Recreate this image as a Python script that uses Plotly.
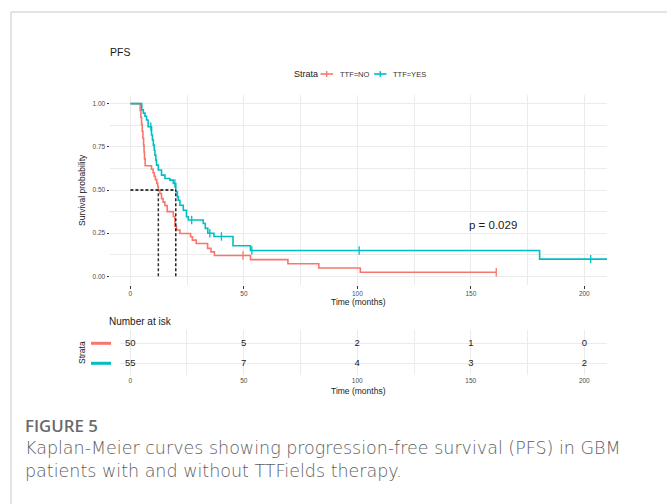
import plotly.graph_objects as go

# ---------------- data ----------------
no_times = [0, 4.3, 4.6, 4.9, 5.2, 5.5, 5.8, 6.0, 6.2, 6.5, 9.3, 10.0, 10.5, 11.0, 11.6, 12.0, 12.3,
            13.0, 13.7, 14.4, 15.2, 16.2, 18.9, 19.6, 20.3, 21.8, 26.5, 27.3, 29.0, 34.0, 35.5, 37.0,
            52.9, 69.4, 83.0, 101.3, 161.2]
no_surv = [1.00, 0.96, 0.92, 0.88, 0.84, 0.80, 0.76, 0.72, 0.68, 0.64, 0.62, 0.60, 0.58, 0.56, 0.54, 0.52, 0.50,
           0.48, 0.45, 0.43, 0.41, 0.375, 0.345, 0.29, 0.268, 0.248, 0.229, 0.21, 0.19, 0.162, 0.142, 0.121,
           0.097, 0.073, 0.048, 0.024, 0.024]
no_censor = [49.6, 161.2]

yes_times = [0, 5.0, 5.7, 6.4, 7.1, 7.8, 9.3, 9.7, 10.1, 10.5, 10.8, 11.2, 11.5, 12.3, 13.7, 15.2, 17.4,
             18.9, 20.0, 20.7, 21.1, 21.8, 23.3, 24.7, 25.5, 32.1, 33.0, 34.1, 36.8, 45.2, 52.9, 180.3, 210.0]
yes_surv = [1.00, 0.964, 0.945, 0.927, 0.905, 0.866, 0.818, 0.79, 0.76, 0.73, 0.702, 0.673, 0.644, 0.616, 0.586,
            0.567, 0.557, 0.538, 0.49, 0.46, 0.441, 0.412, 0.383, 0.345, 0.326, 0.306, 0.278, 0.25, 0.231,
            0.177, 0.150, 0.100, 0.100]
yes_censor = [9.0, 19.6, 27.0, 35.0, 40.1, 53.5, 100.8, 202.8]

strata = ["TTF=NO", "TTF=YES"]
colors = ["#F8766D", "#00BFC4"]
risk_times = [0, 50, 100, 150, 200]
risk_no = [50, 5, 2, 1, 0]
risk_yes = [55, 7, 4, 3, 2]
x_ticks = [0, 50, 100, 150, 200]
y_ticks = [0, 0.25, 0.5, 0.75, 1.0]
y_ticktext = ["0.00", "0.25", "0.50", "0.75", "1.00"]
p_text = "p = 0.029"

W, H = 667, 504
def px(x):
    return x / W
def py(y):
    return 1 - y / H

def step_at(times, surv, t):
    s = surv[0]
    for ti, si in zip(times, surv):
        if ti <= t:
            s = si
    return s

def median(times, surv):
    for ti, si in zip(times, surv):
        if si <= 0.5:
            return ti
    return None

fig = go.Figure()

AX = "Liberation Sans"
for name, t, s, cens, col in [(strata[0], no_times, no_surv, no_censor, colors[0]),
                              (strata[1], yes_times, yes_surv, yes_censor, colors[1])]:
    fig.add_trace(go.Scatter(x=t, y=s, mode="lines", line=dict(color=col, width=1.6, shape="hv"),
                             name=name, showlegend=False, xaxis="x", yaxis="y"))
    fig.add_trace(go.Scatter(x=cens, y=[step_at(t, s, c) for c in cens], mode="markers",
                             marker=dict(symbol="line-ns", size=6, line=dict(color=col, width=1.3)),
                             showlegend=False, xaxis="x", yaxis="y"))

# median lines
m_no = median(no_times, no_surv)
m_yes = median(yes_times, yes_surv)
dash = "3px,2px"
shapes = [
    dict(type="line", xref="x", yref="y", x0=0, x1=max(m_no, m_yes), y0=0.5, y1=0.5,
         line=dict(color="black", width=1.3, dash=dash)),
    dict(type="line", xref="x", yref="y", x0=m_no, x1=m_no, y0=0, y1=0.5,
         line=dict(color="#333", width=1.5, dash=dash)),
    dict(type="line", xref="x", yref="y", x0=m_yes, x1=m_yes, y0=0, y1=0.5,
         line=dict(color="black", width=1.3, dash=dash)),
]

# risk table
for vals, yv in [(risk_no, 1), (risk_yes, 0)]:
    fig.add_trace(go.Scatter(x=risk_times, y=[yv] * len(risk_times), mode="text",
                             text=[str(v) for v in vals], textfont=dict(family=AX, size=9.5, color="#1a1a1a"),
                             showlegend=False, xaxis="x2", yaxis="y2", hoverinfo="skip"))

grid = "#ebebeb"
fig.update_layout(
    width=W, height=H, margin=dict(l=0, r=0, t=0, b=0),
    paper_bgcolor="white", plot_bgcolor="white", showlegend=False,
    font=dict(family=AX),
    xaxis=dict(domain=[px(110), px(607)], range=[-9, 210], anchor="y", tickvals=x_ticks,
               ticks="outside", ticklen=2.5, tickcolor="#333", tickwidth=0.8,
               tickfont=dict(size=6.5, color="#4d4d4d"), showgrid=True, gridcolor=grid, gridwidth=1,
               minor=dict(dtick=25, tick0=0, showgrid=True, gridcolor=grid, gridwidth=0.8),
               zeroline=False, showline=False),
    yaxis=dict(domain=[py(285), py(95)], range=[-0.05, 1.05], anchor="x", tickvals=y_ticks,
               ticktext=y_ticktext, ticks="outside", ticklen=2.5, tickcolor="#333", tickwidth=0.8,
               tickfont=dict(size=6.5, color="#4d4d4d"), showgrid=True, gridcolor=grid, gridwidth=1,
               minor=dict(dtick=0.125, tick0=0, showgrid=True, gridcolor=grid, gridwidth=0.8),
               zeroline=False, showline=False),
    xaxis2=dict(domain=[px(120), px(607)], range=[-4.5, 210], anchor="y2", tickvals=x_ticks,
                ticks="", tickfont=dict(size=6.5, color="#4d4d4d"), showgrid=True, gridcolor=grid,
                minor=dict(dtick=25, tick0=0, showgrid=True, gridcolor=grid, gridwidth=0.8),
                zeroline=False, showline=False),
    yaxis2=dict(domain=[py(375), py(330)], range=[-0.585, 1.665], anchor="x2", tickvals=[0, 1],
                showticklabels=False, ticks="", showgrid=True, gridcolor=grid, zeroline=False, showline=False),
)

ann = []
def txt(x, y, s, size, color="#1a1a1a", xanchor="left", angle=0, family=AX, weight="normal"):
    ann.append(dict(x=px(x), y=py(y), xref="paper", yref="paper", text=s, showarrow=False,
                    xanchor=xanchor, yanchor="middle", textangle=angle,
                    font=dict(size=size, color=color, family=family, weight=weight)))

txt(108, 52, "PFS", 10.5)
txt(291.5, 74, "Strata", 9)
txt(338, 74, strata[0], 7.5, "#333")
txt(391, 74, strata[1], 7.5, "#333")
txt(82, 190, "Survival probability", 8.5, angle=-90, xanchor="center")
txt(358.5, 301.5, "Time (months)", 8.5, xanchor="center")
ann.append(dict(x=159.7, y=0.296, xref="x", yref="y", text=p_text, showarrow=False,
                font=dict(size=11.5, color="#1a1a1a", family=AX)))
txt(107, 321, "Number at isk", 10)
txt(82, 353, "Strata", 8.5, angle=-90, xanchor="center")
txt(358.5, 391, "Time (months)", 8.5, xanchor="center")

CAP = "Open Sans"
txt(23, 425, "FIGURE 5", 16.8, "#6a6a6a", family=CAP, weight=600)
txt(23, 448, "Kaplan-Meier curves showing progression-free survival (PFS) in GBM", 17.5, "#5e5e5e",
    family="DejaVu Sans", weight=300)
txt(23, 471, "patients with and without TTFields therapy.", 17.5, "#5e5e5e", family="DejaVu Sans", weight=300)

# legend keys
for x0, col in [(320.5, colors[0]), (374, colors[1])]:
    shapes.append(dict(type="line", xref="paper", yref="paper", x0=px(x0), x1=px(x0 + 12.5),
                       y0=py(74), y1=py(74), line=dict(color=col, width=1.6)))
    shapes.append(dict(type="line", xref="paper", yref="paper", x0=px(x0 + 6.25), x1=px(x0 + 6.25),
                       y0=py(71), y1=py(77), line=dict(color=col, width=1.3)))
# risk table strata keys
for yy, col in [(343.3, colors[0]), (363.3, colors[1])]:
    shapes.append(dict(type="line", xref="paper", yref="paper", x0=px(91), x1=px(111),
                       y0=py(yy), y1=py(yy), line=dict(color=col, width=3)))
# frame
shapes.append(dict(type="line", xref="paper", yref="paper", x0=px(11), x1=px(11), y0=py(12), y1=py(504),
                   line=dict(color="#c8c8c8", width=1)))
shapes.append(dict(type="line", xref="paper", yref="paper", x0=px(11), x1=px(667), y0=py(12), y1=py(12),
                   line=dict(color="#c8c8c8", width=1)))

fig.update_layout(annotations=ann, shapes=shapes)
fig.write_html("out.html", config={"displayModeBar": False},
               post_script="document.body.style.margin='0';document.body.style.overflow='hidden';")
